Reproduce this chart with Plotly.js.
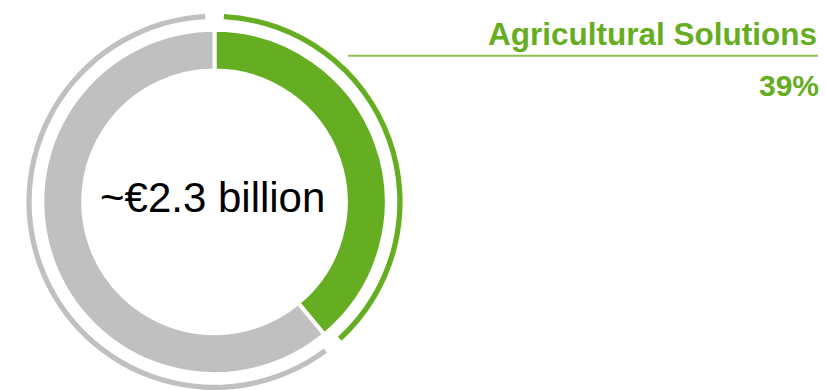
<!DOCTYPE html>
<html>
<head>
<meta charset="utf-8">
<script src="https://cdn.plot.ly/plotly-3.0.1.min.js"></script>
<style>
html,body{margin:0;padding:0;background:#fff;overflow:hidden;}
#chart{width:825px;height:390px;}
</style>
</head>
<body>
<div id="chart"></div>
<script>
// Data
const segments = ["Agricultural Solutions", "Other"];
const shares = [39, 61];
const centerLabel = "~€2.3 billion";
const highlightLabel = "Agricultural Solutions";
const highlightValue = "39%";

const GREEN = "#65AD21";
const GREY = "#C0C0C0";
const RING_GAP = 0.8; // half-gap (in share units) at each boundary of the outer ring

// Outer thin ring built from the same shares, with transparent gap slices
const ringValues = [];
const ringColors = [];
const segColors = [GREEN, GREY];
shares.forEach((v, i) => {
  ringValues.push(RING_GAP, v - 2 * RING_GAP, RING_GAP);
  ringColors.push("rgba(0,0,0,0)", segColors[i], "rgba(0,0,0,0)");
});

const W = 825, H = 390;
const cx = 214.5, cy = 201.9;
const px = x => x / W;
const py = y => (H - y) / H;

const mainR = 172.2;
const mainTrace = {
  type: "pie",
  labels: segments,
  values: shares,
  sort: false,
  direction: "clockwise",
  rotation: 0,
  hole: 0.7625,
  textinfo: "none",
  hoverinfo: "label+percent",
  marker: {colors: segColors, line: {color: "#ffffff", width: 4}},
  domain: {x: [px(cx - mainR), px(cx + mainR)], y: [0, py(cy) * 2]},
  showlegend: false
};

const ringR = 200;
const ringTrace = {
  type: "pie",
  values: ringValues,
  labels: ringValues.map((_, i) => "r" + i),
  sort: false,
  direction: "clockwise",
  rotation: 0,
  hole: 0.972,
  textinfo: "none",
  hoverinfo: "skip",
  marker: {colors: ringColors, line: {width: 0}},
  domain: {x: [px(cx - ringR), px(cx + ringR)], y: [0, py(cy) * 2]},
  showlegend: false
};

const layout = {
  width: W, height: H,
  margin: {l: 0, r: 0, t: 0, b: 0},
  paper_bgcolor: "#ffffff",
  plot_bgcolor: "#ffffff",
  font: {family: "Arial, 'Liberation Sans', sans-serif"},
  showlegend: false,
  annotations: [
    {text: centerLabel, xref: "paper", yref: "paper", x: px(212.5), y: py(197),
     xanchor: "center", yanchor: "middle", showarrow: false,
     font: {size: 42, color: "#000000", family: "Arial, 'Liberation Sans', sans-serif"}},
    {text: "<b>" + highlightLabel + "</b>", xref: "paper", yref: "paper", x: px(818.5), y: py(34),
     xanchor: "right", yanchor: "middle", showarrow: false,
     font: {size: 31.5, color: GREEN, family: "Arial, 'Liberation Sans', sans-serif"}},
    {text: "<b>" + highlightValue + "</b>", xref: "paper", yref: "paper", x: px(821), y: py(85),
     xanchor: "right", yanchor: "middle", showarrow: false,
     font: {size: 30, color: GREEN, family: "Arial, 'Liberation Sans', sans-serif"}}
  ],
  shapes: [
    {type: "line", xref: "paper", yref: "paper", x0: px(348), x1: px(818), y0: py(55.7), y1: py(55.7),
     line: {color: "#8CC152", width: 2}}
  ]
};

Plotly.newPlot("chart", [mainTrace, ringTrace], layout, {displayModeBar: false, staticPlot: true});
</script>
</body>
</html>
